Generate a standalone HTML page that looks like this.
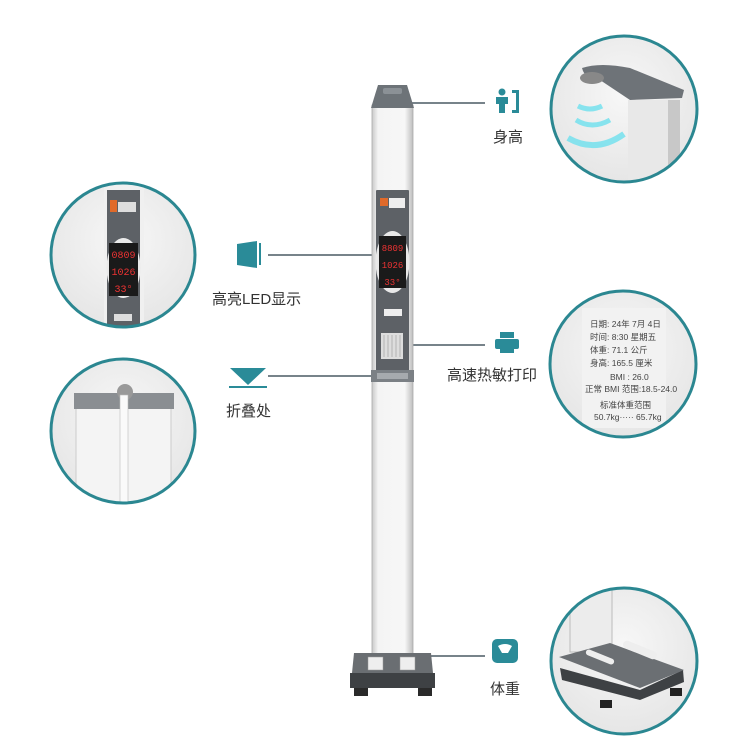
<!DOCTYPE html>
<html><head><meta charset="utf-8">
<style>
body{margin:0;background:#fff;width:748px;height:750px;overflow:hidden}
svg{display:block}
text{font-family:"Liberation Sans","Noto Sans CJK SC",sans-serif;fill:#333}
</style></head><body>
<svg width="748" height="750" viewBox="0 0 748 750" xmlns="http://www.w3.org/2000/svg">
<defs>
<linearGradient id="pole" x1="0" x2="1" y1="0" y2="0">
<stop offset="0" stop-color="#c9c9c9"/><stop offset="0.15" stop-color="#f4f4f4"/><stop offset="0.8" stop-color="#f7f7f7"/><stop offset="1" stop-color="#bdbdbd"/>
</linearGradient>
<radialGradient id="cbg" cx="0.5" cy="0.4" r="0.6"><stop offset="0" stop-color="#f7f7f7"/><stop offset="1" stop-color="#e6e6e6"/></radialGradient>
<clipPath id="c1"><circle cx="624" cy="109" r="73"/></clipPath>
<clipPath id="c2"><circle cx="123" cy="255" r="72"/></clipPath>
<clipPath id="c3"><circle cx="123" cy="431" r="72"/></clipPath>
<clipPath id="c4"><circle cx="623" cy="364" r="73"/></clipPath>
<clipPath id="c5"><circle cx="624" cy="661" r="73"/></clipPath>
</defs>

<g stroke="#4a5a64" stroke-width="1.5">
<line x1="412" y1="103" x2="485" y2="103"/>
<line x1="268" y1="255" x2="373" y2="255"/>
<line x1="268" y1="376" x2="373" y2="376"/>
<line x1="395" y1="345" x2="485" y2="345"/>
<line x1="412" y1="656" x2="485" y2="656"/>
</g>

<rect x="372" y="105" width="41" height="550" fill="url(#pole)" stroke="#aaa" stroke-width="0.8"/>
<path d="M378 85 L407 85 L411 98 L414 108 L371 108 L374 98 Z" fill="#6d7378"/>
<rect x="383" y="88" width="19" height="6" rx="2" fill="#8b9196"/>
<rect x="376" y="190" width="33" height="182" fill="#5d6166" rx="1"/>
<rect x="380" y="198" width="8" height="8" fill="#e06a2a"/>
<rect x="389" y="198" width="16" height="10" fill="#eee"/>
<ellipse cx="392.5" cy="262" rx="17" ry="31" fill="#e8e8e8"/>
<rect x="379" y="236" width="27" height="52" fill="#1a1a1a"/>
<text x="392.5" y="251" font-size="9" text-anchor="middle" style="fill:#e33;font-family:'Liberation Mono',monospace">8809</text>
<text x="392.5" y="268" font-size="9" text-anchor="middle" style="fill:#e33;font-family:'Liberation Mono',monospace">1026</text>
<text x="392.5" y="285" font-size="9" text-anchor="middle" style="fill:#e33;font-family:'Liberation Mono',monospace">33°</text>
<rect x="384" y="309" width="18" height="7" fill="#eee"/>
<rect x="381" y="333" width="22" height="26" fill="#ddd"/>
<g stroke="#999" stroke-width="0.6"><line x1="384" y1="335" x2="384" y2="357"/><line x1="388" y1="335" x2="388" y2="357"/><line x1="392" y1="335" x2="392" y2="357"/><line x1="396" y1="335" x2="396" y2="357"/><line x1="400" y1="335" x2="400" y2="357"/></g>
<rect x="371" y="370" width="43" height="12" fill="#7b8085"/>
<rect x="377" y="373" width="31" height="6" fill="#a6aaae"/>

<path d="M354 653 L431 653 L433 673 L352 673 Z" fill="#6a6e72"/>
<rect x="350" y="673" width="85" height="15" fill="#3e4144"/>
<rect x="368" y="657" width="15" height="13" fill="#eee" stroke="#999" stroke-width="0.5"/>
<rect x="400" y="657" width="15" height="13" fill="#eee" stroke="#999" stroke-width="0.5"/>
<rect x="354" y="688" width="14" height="8" fill="#2a2a2a"/>
<rect x="418" y="688" width="14" height="8" fill="#2a2a2a"/>

<circle cx="624" cy="109" r="73" fill="url(#cbg)"/>
<g clip-path="url(#c1)">
<path d="M628 100 L680 100 L680 190 L628 190 Z" fill="#e8e8e8"/>
<rect x="668" y="100" width="12" height="90" fill="#c8c8c8"/>
<path d="M582 68 Q600 62 630 68 L684 90 L682 98 L630 100 L600 80 Q585 80 582 68 Z" fill="#6e7378"/>
<ellipse cx="592" cy="78" rx="12" ry="6" fill="#888"/>
<path d="M578 106 Q590 112 602 106" stroke="#6de0ee" stroke-width="5" fill="none" opacity="0.8"/>
<path d="M576 120 Q592 130 610 120" stroke="#6de0ee" stroke-width="5" fill="none" opacity="0.8"/>
<path d="M568 138 Q596 154 624 134" stroke="#6de0ee" stroke-width="6" fill="none" opacity="0.8"/>
</g>
<circle cx="624" cy="109" r="73" fill="none" stroke="#2b8791" stroke-width="3"/>

<circle cx="123" cy="255" r="72" fill="url(#cbg)"/>
<g clip-path="url(#c2)">
<rect x="104" y="180" width="40" height="160" fill="#f0f0f0"/>
<rect x="107" y="190" width="33" height="140" fill="#5d6166"/>
<rect x="110" y="200" width="7" height="12" fill="#e06a2a"/>
<rect x="118" y="202" width="18" height="10" fill="#ddd"/>
<ellipse cx="123.5" cy="268" rx="17" ry="30" fill="#eaeaea"/>
<rect x="109" y="243" width="29" height="53" fill="#1a1a1a"/>
<text x="123.5" y="258" font-size="10" text-anchor="middle" style="fill:#e33;font-family:'Liberation Mono',monospace">0809</text>
<text x="123.5" y="275" font-size="10" text-anchor="middle" style="fill:#e33;font-family:'Liberation Mono',monospace">1026</text>
<text x="123.5" y="292" font-size="10" text-anchor="middle" style="fill:#e33;font-family:'Liberation Mono',monospace">33°</text>
<rect x="114" y="314" width="18" height="7" fill="#ddd"/>
</g>
<circle cx="123" cy="255" r="72" fill="none" stroke="#2b8791" stroke-width="3"/>

<circle cx="123" cy="431" r="72" fill="url(#cbg)"/>
<g clip-path="url(#c3)">
<rect x="76" y="398" width="45" height="120" fill="#f4f4f4" stroke="#ccc"/>
<rect x="126" y="398" width="45" height="120" fill="#f4f4f4" stroke="#ccc"/>
<rect x="74" y="393" width="100" height="16" fill="#8a8e92"/>
<circle cx="125" cy="392" r="8" fill="#999"/>
<rect x="120" y="395" width="8" height="130" fill="#fafafa" stroke="#bbb" stroke-width="0.6"/>
</g>
<circle cx="123" cy="431" r="72" fill="none" stroke="#2b8791" stroke-width="3"/>

<circle cx="623" cy="364" r="73" fill="url(#cbg)"/>
<g clip-path="url(#c4)">
<rect x="582" y="308" width="84" height="120" fill="#f2f2f2"/>
<g font-size="8.5" style="font-family:'Liberation Serif','Noto Serif CJK SC',serif">
<text x="590" y="327" style="fill:#444">日期: 24年 7月 4日</text>
<text x="590" y="340" style="fill:#444">时间: 8:30 星期五</text>
<text x="590" y="353" style="fill:#444">体重: 71.1 公斤</text>
<text x="590" y="366" style="fill:#444">身高: 165.5 厘米</text>
<text x="610" y="380" style="fill:#444">BMI : 26.0</text>
<text x="585" y="392" style="fill:#444">正常 BMI 范围:18.5-24.0</text>
<text x="600" y="408" style="fill:#444">标准体重范围</text>
<text x="594" y="420" style="fill:#444">50.7kg····· 65.7kg</text>
</g>
</g>
<circle cx="623" cy="364" r="73" fill="none" stroke="#2b8791" stroke-width="3"/>

<circle cx="624" cy="661" r="73" fill="url(#cbg)"/>
<g clip-path="url(#c5)">
<rect x="570" y="590" width="42" height="62" fill="#ececec" stroke="#bbb"/>
<path d="M560 668 L562 680 L640 700 L684 682 L683 670 L640 690 Z" fill="#3e4144"/>
<path d="M559 657 L610 643 L684 670 L640 688 Z" fill="#6b6f73"/>
<rect x="585" y="654" width="30" height="6" rx="3" fill="#eee" transform="rotate(22 600 657)"/>
<rect x="622" y="646" width="36" height="8" rx="4" fill="#eee" transform="rotate(22 640 650)"/>
<rect x="600" y="700" width="12" height="8" fill="#222"/>
<rect x="670" y="688" width="12" height="8" fill="#222"/>
</g>
<circle cx="624" cy="661" r="73" fill="none" stroke="#2b8791" stroke-width="3"/>

<g fill="#2a8b98">
<circle cx="502" cy="92" r="3.5"/>
<path d="M496 97 L508 97 L508 104 L505 104 L505 113 L499 113 L499 104 L496 104 Z"/>
<path d="M512 90 L519 90 L519 113 L512 113 L512 110 L516 110 L516 93 L512 93 Z"/>
<path d="M237 244 L257 241 L257 268 L237 265 Z"/>
<rect x="259" y="243" width="2" height="22"/>
<path d="M230 368 L266 368 L248 385 Z"/>
<rect x="229" y="386" width="38" height="2"/>
<rect x="500" y="332" width="14" height="6"/>
<rect x="495" y="339" width="24" height="10" rx="2"/>
<rect x="500" y="346" width="14" height="7"/>
<rect x="492" y="639" width="26" height="24" rx="5"/>
</g>
<path d="M498 646 Q505 642 512 646 L508 653 L502 653 Z" fill="#fff"/>

<text x="493" y="142" font-size="15">身高</text>
<text x="212" y="304" font-size="15">高亮LED显示</text>
<text x="226" y="416" font-size="15">折叠处</text>
<text x="447" y="380" font-size="15">高速热敏打印</text>
<text x="490" y="694" font-size="15">体重</text>
</svg>
</body></html>
